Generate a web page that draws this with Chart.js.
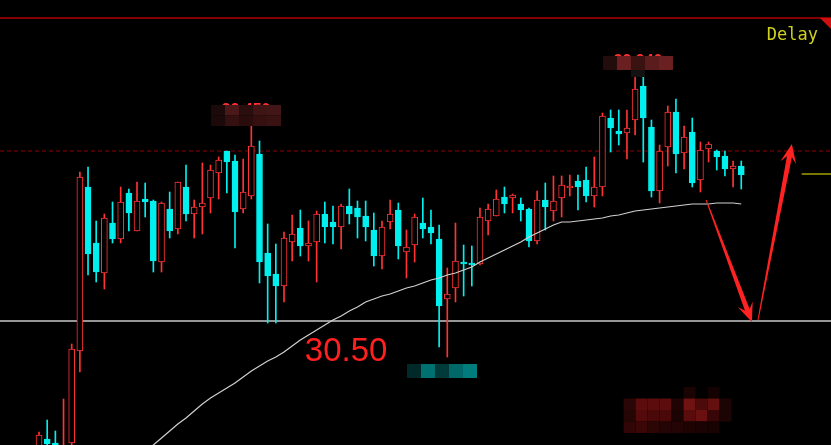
<!DOCTYPE html>
<html>
<head>
<meta charset="utf-8">
<script src="https://cdn.jsdelivr.net/npm/chart.js@4.4.1/dist/chart.umd.min.js"></script>
<style>
  html, body { margin: 0; padding: 0; background: #000; overflow: hidden; }
  canvas { display: block; }
</style>
</head>
<body>
<canvas id="kChart" width="831" height="445"></canvas>
<script>
// daily candles
var openP = [29.19, 29.32, 29.28, 29.13, 29.28, 30.20, 31.84, 31.28, 30.98, 31.48,
    31.32, 31.78, 31.40, 31.72, 31.70, 31.09, 31.62, 31.42, 31.84, 31.57,
    31.64, 31.73, 31.98, 32.20, 32.10, 31.62, 31.75, 32.17, 31.18, 30.97,
    30.85, 31.29, 31.43, 31.25, 31.29, 31.57, 31.49, 31.44, 31.65, 31.63,
    31.55, 31.41, 31.15, 31.49, 31.61, 31.19, 31.26, 31.48, 31.44, 31.32,
    30.72, 30.83, 31.09, 31.08, 31.07, 31.50, 31.55, 31.74, 31.73, 31.67,
    31.62, 31.30, 31.71, 31.60, 31.73, 31.83, 31.90, 31.91, 31.75, 31.84,
    32.53, 32.40, 32.38, 32.51, 32.85, 32.44, 31.80, 32.24, 32.59, 32.18,
    32.39, 31.91, 32.22, 32.20, 32.15, 32.02, 32.05];
var closeP = [29.36, 29.27, 29.23, 29.24, 30.22, 31.94, 31.17, 30.99, 31.53, 31.32,
    31.69, 31.58, 31.70, 31.69, 31.10, 31.68, 31.40, 31.89, 31.57, 31.64,
    31.68, 32.01, 32.11, 32.09, 31.59, 31.79, 32.25, 31.09, 30.95, 30.85,
    31.33, 31.37, 31.25, 31.28, 31.57, 31.44, 31.44, 31.65, 31.57, 31.54,
    31.44, 31.15, 31.44, 31.57, 31.25, 31.24, 31.54, 31.42, 31.38, 30.65,
    30.77, 31.10, 31.07, 31.06, 31.54, 31.62, 31.72, 31.67, 31.76, 31.61,
    31.30, 31.71, 31.64, 31.70, 31.86, 31.85, 31.84, 31.75, 31.84, 32.55,
    32.43, 32.37, 32.43, 32.82, 32.53, 31.80, 32.20, 32.59, 32.17, 32.34,
    31.88, 32.21, 32.27, 32.14, 32.02, 32.05, 31.96];
var highP = [29.39, 29.51, 29.40, 29.72, 30.27, 31.99, 32.04, 31.50, 31.57, 31.69,
    31.84, 31.82, 31.89, 31.88, 31.71, 31.69, 31.79, 31.89, 32.06, 31.71,
    32.08, 32.06, 32.14, 32.20, 32.16, 32.12, 32.45, 32.30, 31.47, 31.27,
    31.39, 31.56, 31.61, 31.50, 31.60, 31.69, 31.65, 31.67, 31.82, 31.70,
    31.70, 31.58, 31.50, 31.71, 31.68, 31.41, 31.57, 31.73, 31.61, 31.46,
    31.03, 31.48, 31.26, 31.25, 31.63, 31.67, 31.81, 31.84, 31.77, 31.73,
    31.63, 31.80, 31.88, 31.95, 31.95, 31.96, 31.96, 32.04, 32.14, 32.58,
    32.61, 32.61, 32.61, 32.94, 32.94, 32.51, 32.26, 32.65, 32.72, 32.45,
    32.53, 32.29, 32.29, 32.21, 32.20, 32.10, 32.10];
var lowP = [29.13, 29.19, 29.16, 29.09, 29.26, 29.99, 30.96, 30.89, 30.82, 31.28,
    31.28, 31.40, 31.40, 31.54, 30.99, 30.99, 31.33, 31.37, 31.50, 31.33,
    31.37, 31.58, 31.72, 31.78, 31.23, 31.58, 31.72, 30.88, 30.48, 30.48,
    30.69, 31.10, 31.15, 31.10, 30.89, 31.28, 31.27, 31.22, 31.47, 31.33,
    31.30, 31.05, 31.02, 31.42, 31.12, 30.93, 31.09, 31.33, 31.27, 30.24,
    30.14, 30.69, 30.75, 30.85, 31.06, 31.36, 31.55, 31.58, 31.58, 31.50,
    31.24, 31.27, 31.41, 31.50, 31.54, 31.75, 31.61, 31.69, 31.64, 31.75,
    32.19, 32.26, 32.12, 32.36, 32.09, 31.74, 31.68, 32.05, 31.98, 32.02,
    31.84, 31.79, 32.09, 32.01, 31.95, 31.84, 31.82];

// moving average, visible from candle 12 on
var maStart = 12;
var maP = [29.13, 29.20, 29.26, 29.33, 29.40, 29.47, 29.53, 29.60, 29.67, 29.73,
    29.78, 29.83, 29.88, 29.94, 30.00, 30.05, 30.10, 30.14, 30.19, 30.25,
    30.31, 30.36, 30.41, 30.46, 30.51, 30.55, 30.60, 30.64, 30.69, 30.72,
    30.75, 30.77, 30.80, 30.83, 30.85, 30.88, 30.91, 30.93, 30.96, 30.98,
    31.01, 31.04, 31.09, 31.13, 31.17, 31.21, 31.25, 31.29, 31.34, 31.38,
    31.42, 31.46, 31.49, 31.49, 31.50, 31.51, 31.52, 31.53, 31.55, 31.56,
    31.58, 31.60, 31.61, 31.62, 31.63, 31.64, 31.65, 31.66, 31.67, 31.67,
    31.67, 31.68, 31.68, 31.68, 31.67];

// levels
var topLevel = 33.53;
var dashLevel = 32.20;
var supportLevel = 30.50;
var yellowLevel = 31.97;
var yellowFrom = 93.4;

// drawn arrows: [tail index, tail price, tip index, tip price]
var arrows = [
    [81.7, 31.71, 87.3, 30.49],
    [88.05, 30.51, 92.2, 32.27]
];

var xMin = -4.78, xMax = 96.99;
var yMin = 29.26, yMax = 33.71;

var RED = '#ff3333';
var CYAN = '#00f0f0';

var isUp = openP.map(function (o, i) { return closeP[i] > o; });

var bodyData = openP.map(function (o, i) { return { x: i, y: [o, closeP[i]] }; });
var wickData = lowP.map(function (l, i) { return { x: i, y: [l, highP[i]] }; });
var maData = maP.map(function (v, k) { return { x: maStart + k, y: v }; });

function hLine(level, from) {
    return [{ x: from, y: level }, { x: xMax, y: level }];
}

// overlay: arrows, labels, mosaic blocks
var overlay = {
    id: 'overlay',
    afterDatasetsDraw: function (chart) {
        var c = chart.ctx, xs = chart.scales.x, ys = chart.scales.y;
        var px = function (v) { return xs.getPixelForValue(v); };
        var py = function (v) { return ys.getPixelForValue(v); };
        c.save();

        // arrows
        c.fillStyle = '#ff2222';
        arrows.forEach(function (a) {
            var x0 = px(a[0]), y0 = py(a[1]), x1 = px(a[2]), y1 = py(a[3]);
            var dx = x1 - x0, dy = y1 - y0, len = Math.sqrt(dx * dx + dy * dy);
            dx /= len; dy /= len;
            var nx = -dy, ny = dx;
            var neckX = x1 - dx * 13, neckY = y1 - dy * 13;
            var barbX = x1 - dx * 19, barbY = y1 - dy * 19;
            c.beginPath();
            c.moveTo(x0 + nx * 0.5, y0 + ny * 0.5);
            c.lineTo(neckX + nx * 2.5, neckY + ny * 2.5);
            c.lineTo(barbX + nx * 8, barbY + ny * 8);
            c.lineTo(x1, y1);
            c.lineTo(barbX - nx * 8, barbY - ny * 8);
            c.lineTo(neckX - nx * 2.5, neckY - ny * 2.5);
            c.lineTo(x0 - nx * 0.5, y0 - ny * 0.5);
            c.closePath();
            c.fill();
        });

        // support value
        c.fillStyle = '#ff2020';
        c.font = '33px "Liberation Sans", Arial, sans-serif';
        c.textAlign = 'left';
        c.textBaseline = 'alphabetic';
        c.fillText(supportLevel.toFixed(2), px(32.55), py(supportLevel - 0.40));

        // Delay + corner mark
        var ca = chart.chartArea;
        c.fillStyle = '#d0d020';
        c.font = '17px "DejaVu Sans Mono", monospace';
        c.textAlign = 'right';
        c.fillText('Delay', ca.right - 13, py(topLevel) + 22);
        c.fillStyle = '#d01010';
        c.beginPath();
        c.moveTo(ca.right - 11, py(topLevel));
        c.lineTo(ca.right, py(topLevel));
        c.lineTo(ca.right, py(topLevel) + 11);
        c.closePath();
        c.fill();

        // censored price labels
        function blocks(cx, top, rows, w, h) {
            rows.forEach(function (row, r) {
                var left = cx - row.length * w / 2;
                row.forEach(function (col, k) {
                    if (!col) return;
                    c.fillStyle = col;
                    c.fillRect(left + k * w, top + r * h, w, h);
                });
            });
        }
        function peak(idx, price, text, rows, hgt) {
            var cx = px(idx), bottom = py(price);
            var top = bottom - hgt;
            c.fillStyle = '#ff3030';
            c.font = 'bold 16px "Liberation Sans", Arial, sans-serif';
            c.textAlign = 'center';
            c.fillText(text, cx, top + 10);
            blocks(cx, top, rows, 14, hgt / rows.length);
        }
        peak(25.35, highP[26], highP[26].toFixed(3), [
            ['#1c0a0a', '#4a1818', '#2a0e0e', '#3e1414', '#421616'],
            ['#1c0a0a', '#341010', '#2a0c0c', '#361010', '#3a1212']
        ], 21);
        peak(73.35, highP[73] + 0.07, highP[73].toFixed(3), [
            ['#220c0c', '#6a2020', '#3a1212', '#5a1c1c', '#6a2020']
        ], 14);
        c.fillStyle = '#121212';
        c.fillRect(px(73.35) - 7, py(highP[73] + 0.07), 14, 7);

        // low label
        blocks(px(49.35), py(lowP[50] - 0.07), [
            ['#002a2a', '#007070', '#003a3a', '#006868', '#007c7c']
        ], 14, 14);

        // bottom red block
        blocks(px(78.2), py(29.84), [
            [null, null, null, null, null, '#1a0303', null, '#140202', null],
            ['#2a0606', '#5c0c0c', '#5c0c0c', '#5c0c0c', '#200404', '#701212', '#4c0a0a', '#641010', '#1c0404'],
            ['#260505', '#540a0a', '#4a0808', '#4a0808', '#1c0303', '#5a0c0c', '#6a1010', '#380606', '#1c0404'],
            ['#300606', '#3a0606', '#2c0505', '#240404', '#240404', '#1e0303', '#1c0303', '#180202', null]
        ], 12, 11.5);

        c.restore();
    }
};

var ctx = document.getElementById('kChart');
var kChart = new Chart(ctx, {
    type: 'bar',
    data: {
        datasets: [{
            type: 'line',
            data: maData,
            borderColor: '#d0d0d0',
            borderWidth: 1.2,
            pointRadius: 0,
            tension: 0,
            order: 0
        }, {
            data: bodyData,
            backgroundColor: isUp.map(function (u) { return u ? '#000' : CYAN; }),
            borderColor: isUp.map(function (u) { return u ? RED : CYAN; }),
            borderWidth: 1,
            borderSkipped: false,
            barThickness: 6,
            grouped: false,
            order: 1
        }, {
            data: wickData,
            backgroundColor: isUp.map(function (u) { return u ? RED : CYAN; }),
            barThickness: 1,
            grouped: false,
            order: 2
        }, {
            type: 'line',
            data: hLine(topLevel, xMin),
            borderColor: '#b00000',
            borderWidth: 1.5,
            pointRadius: 0,
            order: 3
        }, {
            type: 'line',
            data: hLine(dashLevel, xMin),
            borderColor: '#900000',
            borderWidth: 1,
            borderDash: [4, 3],
            pointRadius: 0,
            order: 3
        }, {
            type: 'line',
            data: hLine(supportLevel, xMin),
            borderColor: '#c8c8c8',
            borderWidth: 1.5,
            pointRadius: 0,
            order: 3
        }, {
            type: 'line',
            data: hLine(yellowLevel, yellowFrom),
            borderColor: '#c8c800',
            borderWidth: 1.2,
            pointRadius: 0,
            order: 3
        }]
    },
    options: {
        responsive: false,
        animation: false,
        layout: { padding: 0 },
        plugins: {
            legend: { display: false },
            tooltip: { enabled: false }
        },
        scales: {
            x: { type: 'linear', min: xMin, max: xMax, offset: false, display: false },
            y: { min: yMin, max: yMax, display: false }
        }
    },
    plugins: [overlay]
});
</script>
</body>
</html>
